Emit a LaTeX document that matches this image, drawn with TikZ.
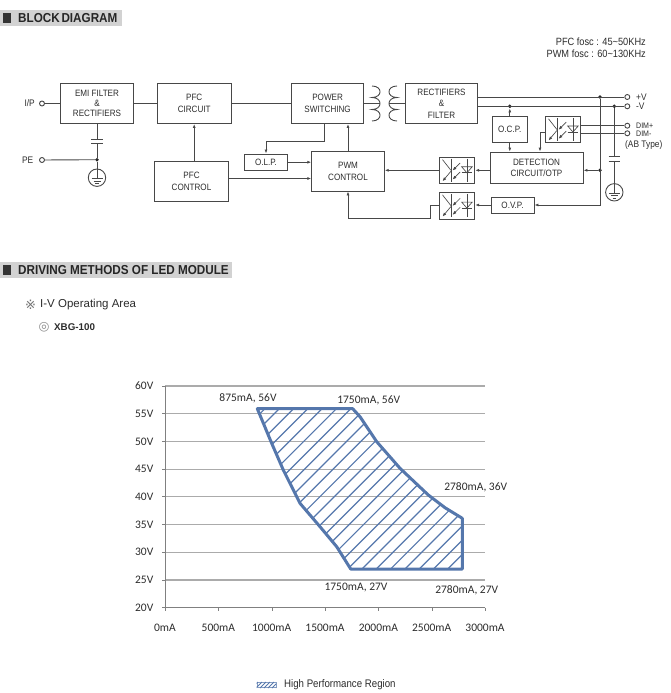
\documentclass[tikz,border=0pt]{standalone}
\usepackage{fontspec}
\setmainfont{Liberation Sans}
\newfontfamily\blockfont[FakeStretch=0.88]{Liberation Sans}
\newfontfamily\headfont[FakeStretch=0.9]{Liberation Sans}
\newfontfamily\chartfont{Carlito}
\newfontfamily\symfont{DejaVu Sans}
\usetikzlibrary{arrows.meta}

\definecolor{wirecol}{HTML}{484848}
\definecolor{textcol}{HTML}{2C2C2C}
\definecolor{bandcol}{HTML}{D2D2D2}
\definecolor{gridcol}{HTML}{ABABAB}
\definecolor{areacol}{HTML}{5577AC}

\tikzset{
  wire/.style={draw=wirecol, line width=0.9pt},
  thinwire/.style={draw=wirecol, line width=0.65pt},
  arrowwire/.style={wire, -{Latex[length=4pt,width=3pt]}},
  blocknode/.style={wire, inner sep=0pt, align=center, text=textcol,
    font=\blockfont\fontsize{9.2}{12}\selectfont},
  termnode/.style={circle, wire, fill=white, inner sep=0pt, minimum size=5pt},
  dotnode/.style={circle, fill=black!85, inner sep=0pt, minimum size=3.8pt},
  wiretext/.style={inner sep=0pt, text=textcol, font=\blockfont\fontsize{9.5}{11}\selectfont},
  bandnode/.style={fill=bandcol, inner sep=0pt, anchor=west, minimum height=16pt},
  headtext/.style={inner sep=0pt, anchor=west, text=black!85,
    font=\headfont\bfseries\fontsize{13}{15}\selectfont},
  chartlabel/.style={inner sep=0pt, text=textcol, font=\chartfont\fontsize{11.5}{13}\selectfont},
  opto/.pic={
    \draw[thinwire] (-6.3,-11.7) -- (-6.3,11.7);
    \draw[thinwire] (-14.7,-10.7) -- (-6.3,0);
    \draw[thinwire, -{Latex[length=4pt,width=3pt]}] (-6.3,1) -- (-14.7,11);
    \draw[thinwire, -{Latex[length=4pt,width=3pt]}] (3,-7.3) -- (-4.7,0.3);
    \draw[thinwire, -{Latex[length=4pt,width=3pt]}] (3,1.7) -- (-4.7,9.3);
    \draw[thinwire] (9.7,-11.7) -- (9.7,11.7);
    \draw[thinwire] (4.5,-3.5) -- (15,-3.5) -- (9.7,2.5) -- cycle;
    \draw[thinwire] (4.5,2.5) -- (15,2.5);
  },
  gndsym/.pic={
    \draw[wire] (0,0) circle[radius=8.7];
    \draw[wire] (0,-8.7) -- (0,0.7);
    \draw[wire] (-5.5,0.7) -- (5.5,0.7);
    \draw[wire] (-3.5,3.4) -- (3.5,3.4);
    \draw[wire] (-1.7,6) -- (1.7,6);
  },
  coilsym/.pic={
    \draw[wire] (0,-17.5) .. controls (10.7,-17.5) and (10.7,-6) .. (0,-6)
      .. controls (10.7,-6) and (10.7,6) .. (0,6)
      .. controls (10.7,6) and (10.7,17.5) .. (0,17.5);
  },
}

\begin{document}
\begin{tikzpicture}[x=1pt, y=-1pt]
  \useasboundingbox (0,0) rectangle (670,693);

  % headings
  \node[bandnode, minimum width=122pt] (banda) at (0,18) {};
  \node[bandnode, minimum width=232pt] (bandb) at (0,270) {};
  \node[fill=black!80, inner sep=0pt, minimum width=8pt, minimum height=9.5pt] (marka) at (7,18) {};
  \node[fill=black!80, inner sep=0pt, minimum width=8pt, minimum height=9.5pt] (markb) at (7,270) {};
  \node[headtext] (heada) at (18,18) {BLOCK\hspace*{-1.5pt} DIAGRAM};
  \node[headtext] (headb) at (18,270) {DRIVING METHODS OF LED MODULE};

  \node[wiretext, anchor=east, font=\blockfont\fontsize{10.5}{12}\selectfont] (fpfc) at (646,41.5) {PFC fosc : 45\char`\~50KHz};
  \node[wiretext, anchor=east, font=\blockfont\fontsize{10.5}{12}\selectfont] (fpwm) at (646,54) {PWM fosc : 60\char`\~130KHz};

  % blocks
  \node[blocknode, minimum width=73pt, minimum height=40pt, font=\blockfont\fontsize{9.2}{10}\selectfont] (emi) at (97,103.5) {EMI FILTER\\\&\\RECTIFIERS};
  \node[blocknode, minimum width=73.5pt, minimum height=40pt] (pfc) at (194.2,103.5) {PFC\\CIRCUIT};
  \node[blocknode, minimum width=74pt, minimum height=40pt] (pfcctl) at (191.5,181.2) {PFC\\CONTROL};
  \node[blocknode, minimum width=72.5pt, minimum height=40pt] (powersw) at (327.6,103.5) {POWER\\SWITCHING};
  \node[blocknode, minimum width=43pt, minimum height=16.5pt] (olp) at (266,162.2) {O.L.P.};
  \node[blocknode, minimum width=72.5pt, minimum height=39.5pt] (pwm) at (348,171.2) {PWM\\CONTROL};
  \node[blocknode, minimum width=72.5pt, minimum height=40pt, font=\blockfont\fontsize{9.2}{11.5}\selectfont] (rect) at (441.5,103.5) {RECTIFIERS\\\&\\FILTER};
  \node[blocknode, minimum width=35pt, minimum height=26.4pt] (ocp) at (509.8,129.5) {O.C.P.};
  \node[blocknode, minimum width=93pt, minimum height=31.7pt, font=\blockfont\fontsize{9.2}{10.8}\selectfont] (detect) at (536.5,167.9) {DETECTION\\CIRCUIT/OTP};
  \node[blocknode, minimum width=43pt, minimum height=16pt] (ovp) at (512.5,205) {O.V.P.};
  \node[blocknode, minimum width=35pt, minimum height=26.4pt] (optodim) at (563.2,129.5) {};
  \node[blocknode, minimum width=35pt, minimum height=26.7pt] (optoa) at (457.2,170.3) {};
  \node[blocknode, minimum width=35pt, minimum height=26.7pt] (optob) at (457.2,205.6) {};
  \pic at (optodim) {opto};
  \pic at (optoa) {opto};
  \pic at (optob) {opto};

  % transformer
  \coordinate (coilp) at (372,103.5);
  \coordinate (coilpend) at (380,103.5);
  \coordinate (coils) at (397,103.5);
  \coordinate (coilsend) at (389,103.5);
  \pic at (coilp) {coilsym};
  \pic[xscale=-1] at (coils) {coilsym};
  \draw[wire] (powersw.east) -- (coilpend);
  \draw[wire] (rect.west) -- (coilsend);

  % input side
  \node[termnode] (ip) at (42,103.5) {};
  \node[termnode] (pe) at (42,160) {};
  \node[wiretext, anchor=east] (iptext) at (35,103.5) {I/P};
  \node[wiretext, anchor=east] (petext) at (33.5,160) {PE};
  \node[dotnode] (pejoin) at (97,159.7) {};
  \node[minimum width=11pt, minimum height=3.4pt, inner sep=0pt] (capa) at (97,141.7) {};
  \node[inner sep=0pt, minimum size=17.4pt, circle] (gnda) at (97,177.7) {};
  \pic at (gnda) {gndsym};
  \draw[wire] (capa.north west) -- (capa.north east);
  \draw[wire] (capa.south west) -- (capa.south east);
  \draw[wire] (emi.south) -- (capa.north);
  \draw[wire] (capa.south) -- (pejoin) -- (gnda.north);
  \draw[wire] (ip) -- (emi);
  \draw[wire] (pe) -- (pejoin);
  \draw[wire] (emi) -- (pfc);
  \draw[wire] (pfc) -- (powersw);
  \draw[arrowwire] (pfcctl.north -| pfc.south) -- (pfc.south);

  \coordinate (swbend) at (324,141);
  \draw[arrowwire] (swbend |- powersw.south) -- (swbend) -| (olp.north);
  \draw[arrowwire] (olp.east) -- (olp.east -| pwm.west);
  \draw[arrowwire] (pfcctl.east |- 0,178.5) -- (pwm.west |- 0,178.5);
  \draw[arrowwire] (pwm.north) -- (pwm.north |- powersw.south);

  % output side
  \node[termnode] (vp) at (627.3,97) {};
  \node[termnode] (vm) at (627.3,106.3) {};
  \node[termnode] (dimp) at (627.3,125.7) {};
  \node[termnode] (dimm) at (627.3,133.3) {};
  \node[wiretext, anchor=west] (vptext) at (636,97) {+V};
  \node[wiretext, anchor=west] (vmtext) at (636,106.3) {-V};
  \node[wiretext, anchor=west, font=\blockfont\fontsize{8}{9}\selectfont] (dimptext) at (636,125.7) {DIM+};
  \node[wiretext, anchor=west, font=\blockfont\fontsize{8}{9}\selectfont] (dimmtext) at (636,133.3) {DIM-};
  \node[wiretext, anchor=west] (abtext) at (625,145) {(AB Type)};

  \node[dotnode] (vpjoin) at (600,97) {};
  \node[dotnode] (vmjoin) at (614.3,106.3) {};
  \node[dotnode] (ocpjoin) at (509.8,106.3) {};
  \node[dotnode] (detjoin) at (600,170.3) {};
  \draw[wire] (rect.east |- vp) -- (vp);
  \draw[wire] (rect.east |- vm) -- (vm);
  \draw[wire] (optodim.east |- dimp) -- (dimp);
  \draw[wire] (optodim.east |- dimm) -- (dimm);

  \draw[arrowwire] (ocp.north) -- (ocpjoin);
  \draw[arrowwire] (ocp.south) -- (ocp.south |- detect.north);
  \coordinate (dimbend) at (540,132.7);
  \draw[arrowwire] (optodim.west |- dimbend) -- (dimbend) -- (dimbend |- detect.north);
  \draw[arrowwire] (detjoin) -- (detect.east |- detjoin);
  \draw[arrowwire] (detect.west |- optoa) -- (optoa.east);
  \draw[arrowwire] (optoa.west) -- (pwm.east |- optoa);

  \coordinate (ovpbend) at (600,205);
  \draw[arrowwire] (vpjoin) -- (ovpbend) -- (ovp.east);
  \draw[arrowwire] (ovp.west) -- (ovp.west -| optob.east);
  \coordinate (optobend) at (430,218.3);
  \draw[arrowwire] (optob.west) -| (optobend) -- (optobend -| pwm.south) -- (pwm.south);

  \node[minimum width=11pt, minimum height=4.6pt, inner sep=0pt] (capb) at (614.3,159) {};
  \node[inner sep=0pt, minimum size=17.4pt, circle] (gndb) at (614.3,192.3) {};
  \pic at (gndb) {gndsym};
  \draw[wire] (capb.north west) -- (capb.north east);
  \draw[wire] (capb.south west) -- (capb.south east);
  \draw[wire] (vmjoin) -- (capb.north);
  \draw[wire] (capb.south) -- (gndb.north);

  % second heading
  \node[inner sep=0pt, text=black!55, font=\symfont\fontsize{13}{14}\selectfont] (noteg) at (30.5,304.3) {※};
  \node[inner sep=0pt, anchor=west, text=textcol, font=\fontsize{11.5}{13}\selectfont] (ivtext) at (40,304.3) {I-V Operating Area};
  \node[inner sep=0pt, text=black!45, font=\symfont\fontsize{12.5}{14}\selectfont] (ring) at (44,327) {◎};
  \node[inner sep=0pt, anchor=west, text=textcol, font=\bfseries\fontsize{9.8}{11}\selectfont] (model) at (54,327) {XBG-100};

  % chart
  \foreach \v in {25,30,...,60}
    \draw[gridcol, line width=1.1pt] (165.3,{607.7-(\v-20)*5.5425}) -- (485.3,{607.7-(\v-20)*5.5425});
  \draw[draw=gray, line width=1pt] (165.3,386) -- (165.3,607.7) -- (485.3,607.7);
  \foreach \v in {20,25,...,60} {
    \draw[gray, line width=0.8pt] (162,{607.7-(\v-20)*5.5425}) -- (165.3,{607.7-(\v-20)*5.5425});
    \node[chartlabel, anchor=east] (ylab\v) at (153.5,{607.7-(\v-20)*5.5425}) {\v V};
  }
  \foreach \c in {0,500,...,3000} {
    \draw[gray, line width=0.8pt] ({165.3+\c*0.106667},607.7) -- ({165.3+\c*0.106667},611);
    \node[chartlabel] (xlab\c) at ({165+\c*0.106667},627.3) {\c mA};
  }

  % region
  \begin{scope}
    \clip (257.3,408.7) -- (352.7,408.7) -- (360,416.7) -- (376.7,441.7) -- (400,468.3)
      -- (428.3,495) -- (445,507.7) -- (462.3,518.3) -- (462.3,569) -- (350.7,569)
      -- (336.7,546.7) -- (320,526.7) -- (300,503.3) -- (283.3,470) -- (271.7,443.3) -- cycle;
    \foreach \hx in {251.3,265.6,...,630}
      \draw[areacol, line width=1.2pt] (\hx,408) -- ++(-162,162);
  \end{scope}
  \draw[areacol, line width=3pt, line join=round] (257.3,408.7) -- (352.7,408.7) -- (360,416.7) -- (376.7,441.7) -- (400,468.3)
      -- (428.3,495) -- (445,507.7) -- (462.3,518.3) -- (462.3,569) -- (350.7,569)
      -- (336.7,546.7) -- (320,526.7) -- (300,503.3) -- (283.3,470) -- (271.7,443.3) -- cycle;

  \node[chartlabel] (laba) at (248,398) {875mA, 56V};
  \node[chartlabel] (labb) at (368.7,400) {1750mA, 56V};
  \node[chartlabel] (labc) at (475.7,487.3) {2780mA, 36V};
  \node[chartlabel] (labd) at (356,587.7) {1750mA, 27V};
  \node[chartlabel] (labe) at (466.7,590.3) {2780mA, 27V};

  % legend
  \node[draw=areacol!70, line width=0.6pt, inner sep=0pt, minimum width=19pt, minimum height=5.5pt] (swatch) at (266.3,685) {};
  \begin{scope}
    \clip (swatch.south west) rectangle (swatch.north east);
    \foreach \hx in {258,262,...,286}
      \draw[areacol, line width=0.8pt] (\hx,682) -- ++(-6,6);
  \end{scope}
  \node[inner sep=0pt, anchor=west, text=textcol, font=\blockfont\fontsize{11}{12}\selectfont] (legend) at (284,685) {High Performance Region};
\end{tikzpicture}
\end{document}
